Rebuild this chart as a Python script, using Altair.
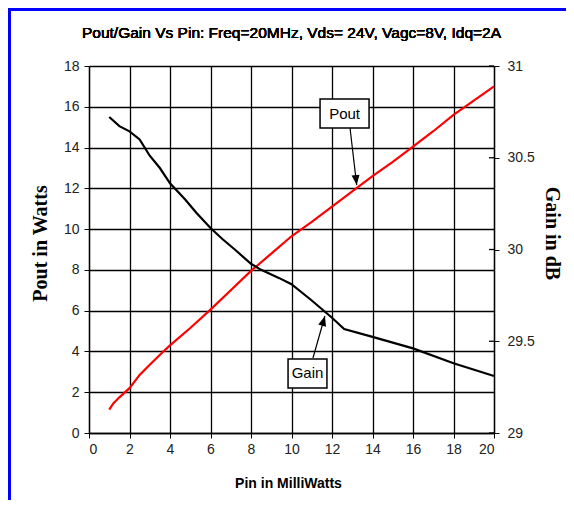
import altair as alt
import pandas as pd

# ---- data ----
pin_pout = [1, 1.2, 1.5, 2, 2.5, 3, 3.67, 4, 5, 6, 7, 8, 9, 10, 11, 12, 13, 14, 15, 16, 17, 18, 19, 20]
pout_w = [1.15, 1.45, 1.75, 2.2, 2.85, 3.35, 4.0, 4.3, 5.15, 6.05, 7.0, 7.95, 8.8, 9.65, 10.35,
          11.1, 11.85, 12.6, 13.3, 14.05, 14.8, 15.6, 16.3, 17.0]

pin_gain = [1, 1.5, 2, 2.5, 3, 3.5, 4, 4.75, 5.3, 6, 6.6, 7.2, 8, 8.5, 9.4, 10, 11, 12, 12.6, 14, 16, 18, 20]
gain_db = [30.722, 30.672, 30.644, 30.600, 30.511, 30.444, 30.361, 30.272, 30.200, 30.117, 30.056,
           30.000, 29.922, 29.889, 29.844, 29.811, 29.722, 29.628, 29.567, 29.524, 29.461, 29.380, 29.311]

x_ticks = list(range(0, 21, 2))
left_ticks = list(range(0, 19, 2))
right_ticks = [29, 29.5, 30, 30.5, 31]

title_text = "Pout/Gain Vs Pin: Freq=20MHz, Vds= 24V, Vagc=8V, Idq=2A"

# annotation boxes (in Pin / Pout-axis units)
ann_label = ["Pout", "Gain"]
ann_x1 = [11.41, 9.83]
ann_x2 = [13.83, 11.75]
ann_y1 = [14.96, 2.21]
ann_y2 = [16.38, 3.63]
ann_tail_x = [12.89, 11.06]
ann_tail_y = [14.96, 3.68]
ann_tip_x = [13.22, 11.65]
ann_tip_y = [12.16, 5.74]
ann_angle = [353.3, 196]

SANS = "Liberation Sans, Arial, sans-serif"
SERIF = "Liberation Serif, Times New Roman, serif"

pout_df = pd.DataFrame({"pin": pin_pout, "pout": pout_w})
gain_df = pd.DataFrame({"pin": pin_gain, "gain": gain_db})
rt_df = pd.DataFrame({"g": right_ticks})
ann_df = pd.DataFrame({
    "label": ann_label, "x1": ann_x1, "x2": ann_x2, "y1": ann_y1, "y2": ann_y2,
    "xc": [(a + b) / 2 for a, b in zip(ann_x1, ann_x2)],
    "yc": [(a + b) / 2 for a, b in zip(ann_y1, ann_y2)],
    "tx": ann_tail_x, "ty": ann_tail_y, "hx": ann_tip_x, "hy": ann_tip_y, "ang": ann_angle,
})

x_scale = alt.Scale(domain=[0, 20], nice=False, zero=False)
left_scale = alt.Scale(domain=[0, 18], nice=False, zero=False)
right_scale = alt.Scale(domain=[29, 31], nice=False, zero=False)

x_axis = alt.Axis(
    values=x_ticks, format="d", grid=True, gridColor="black", gridWidth=1.3, gridOpacity=1,
    tickColor="black", tickSize=5, domainColor="black", domainWidth=1.3,
    labelFont=SANS, labelFontSize=14, labelColor="#222", labelPadding=4,
    title="Pin in MilliWatts", titleFont=SANS, titleFontSize=14, titleFontWeight="bold",
    titleColor="black", titleX=199, titleY=50, titleBaseline="middle", titleAnchor="middle",
)
left_axis = alt.Axis(
    orient="left", values=left_ticks, format="d", grid=True, gridColor="black", gridWidth=1.3,
    gridOpacity=1, tickColor="black", tickSize=5, domainColor="black", domainWidth=1.3,
    labelFont=SANS, labelFontSize=14, labelColor="#222", labelPadding=5,
    title="Pout in Watts", titleFont=SERIF, titleFontSize=20, titleFontWeight="bold",
    titleColor="black", titleX=-49, titleY=177, titleAngle=270, titleBaseline="middle",
    titleAlign="center",
)
right_axis = alt.Axis(
    orient="right", values=right_ticks, format="~g", grid=False,
    tickColor="black", tickSize=5, domainColor="black", domainWidth=1.3,
    labelFont=SANS, labelFontSize=14, labelColor="#222", labelPadding=8,
    title="Gain in dB", titleFont=SERIF, titleFontSize=20, titleFontWeight="bold",
    titleColor="black", titleX=57, titleY=167, titleAngle=90, titleBaseline="middle",
    titleAlign="center",
)

pout_line = alt.Chart(pout_df).mark_line(color="#ff0000", strokeWidth=2.2).encode(
    x=alt.X("pin:Q", scale=x_scale, axis=x_axis),
    y=alt.Y("pout:Q", scale=left_scale, axis=left_axis),
)
gain_line = alt.Chart(gain_df).mark_line(color="black", strokeWidth=2.2).encode(
    x=alt.X("pin:Q", scale=x_scale),
    y=alt.Y("gain:Q", scale=right_scale, axis=right_axis),
)
# inner halves of the right-axis ticks (the reference's ticks cross the axis)
right_inner_ticks = alt.Chart(rt_df).mark_rule(color="black", strokeWidth=1.3).encode(
    x=alt.value(400), x2=alt.value(405),
    y=alt.Y("g:Q", scale=right_scale, axis=None),
)

ann_base = alt.Chart(ann_df)
arrow_lines = ann_base.mark_rule(color="black", strokeWidth=1.2).encode(
    x=alt.X("tx:Q", scale=x_scale), x2="hx:Q",
    y=alt.Y("ty:Q", scale=left_scale, axis=None), y2="hy:Q",
)
arrow_heads = ann_base.mark_point(
    shape="M0,0 L-0.4,-1 L0.4,-1 Z", filled=True, color="black", opacity=1, size=400,
).encode(
    x=alt.X("hx:Q", scale=x_scale),
    y=alt.Y("hy:Q", scale=left_scale, axis=None),
    angle=alt.Angle("ang:Q", scale=None),
)
boxes = ann_base.mark_rect(fill="white", stroke="black", strokeWidth=1.5).encode(
    x=alt.X("x1:Q", scale=x_scale), x2="x2:Q",
    y=alt.Y("y1:Q", scale=left_scale, axis=None), y2="y2:Q",
)
labels = ann_base.mark_text(font=SANS, fontSize=15, color="black").encode(
    x=alt.X("xc:Q", scale=x_scale),
    y=alt.Y("yc:Q", scale=left_scale, axis=None),
    text="label:N",
)

title_mark = alt.Chart(rt_df).mark_text(
    font=SANS, fontSize=15.5, color="black", align="center", baseline="middle",
).encode(x=alt.value(202.5), y=alt.value(-33), text=alt.value(title_text))

# page frame lines (decoration)
frame_left = alt.Chart(rt_df).mark_rule(color="#0000ff", strokeWidth=3).encode(
    x=alt.value(-79.5), y=alt.value(-58), y2=alt.value(434))
frame_top = alt.Chart(rt_df).mark_rule(color="#0000ff", strokeWidth=3).encode(
    x=alt.value(-81), x2=alt.value(480), y=alt.value(-56.5))

chart = alt.layer(
    pout_line, gain_line, right_inner_ticks, arrow_lines, arrow_heads, boxes, labels,
    title_mark, frame_left, frame_top,
).resolve_scale(y="independent").properties(
    width=405, height=367,
    autosize=alt.AutoSizeParams(type="none"),
    padding={"left": 81, "top": 58, "right": 72, "bottom": 67},
).configure_view(stroke="black", strokeWidth=1.3).configure(background="white")

chart.save("out.html", embed_options={"renderer": "svg", "actions": False})
